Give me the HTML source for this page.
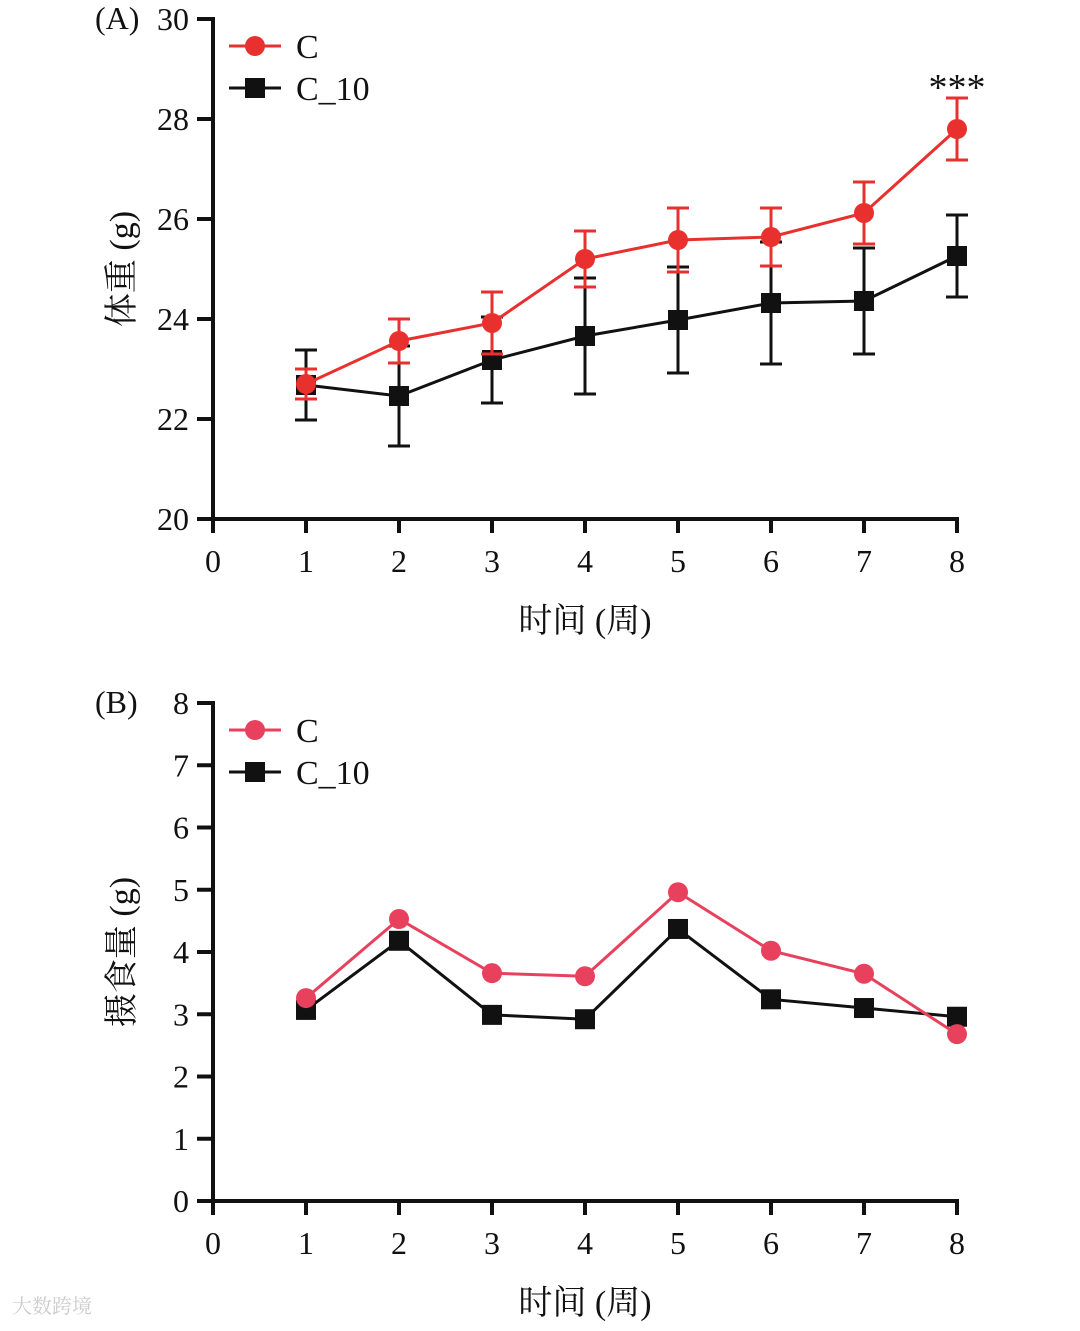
<!DOCTYPE html>
<html><head><meta charset="utf-8"><style>
body{margin:0;background:#fff;}
svg text{font-family:"Liberation Serif","Noto Serif CJK SC",serif;fill:#111;}
</style></head><body>
<svg id="c" width="1080" height="1326" viewBox="0 0 1080 1326" xmlns="http://www.w3.org/2000/svg"></svg>
<script>
const weeks=[1,2,3,4,5,6,7,8];
const xTicks=[0,1,2,3,4,5,6,7,8];
const aTicks=[20,22,24,26,28,30];
const aC=[22.7,23.56,23.92,25.2,25.58,25.64,26.12,27.8];
const aCerr=[0.3,0.44,0.62,0.56,0.64,0.58,0.62,0.62];
const aK=[22.68,22.46,23.18,23.66,23.98,24.32,24.36,25.26];
const aKerr=[0.7,1.0,0.86,1.16,1.06,1.22,1.06,0.82];
const bTicks=[0,1,2,3,4,5,6,7,8];
const bC=[3.26,4.53,3.66,3.61,4.96,4.02,3.65,2.68];
const bK=[3.07,4.18,2.99,2.92,4.37,3.24,3.10,2.96];
const NS="http://www.w3.org/2000/svg";
const svg=document.getElementById('c');
function mk(t,a,txt,p){const e=document.createElementNS(NS,t);for(const k in a)e.setAttribute(k,a[k]);if(txt!==undefined)e.textContent=txt;(p||svg).appendChild(e);return e;}
const X=v=>213+v*93;
function panel(name,y0,y1,vmin,vmax,ticks,ytitle,label,sC,sK,eC,eK,red){
  const Y=v=>y0-(v-vmin)/(vmax-vmin)*(y0-y1);
  const g=mk('g',{});
  
  
  const ax=mk('g',{},undefined,g);
  
  mk('line',{x1:213,y1:y1-2,x2:213,y2:y0+2,stroke:'#111','stroke-width':4},undefined,ax);
  mk('line',{x1:211,y1:y0,x2:959,y2:y0,stroke:'#111','stroke-width':4},undefined,ax);
  ticks.forEach(t=>{mk('line',{x1:197,y1:Y(t),x2:213,y2:Y(t),stroke:'#111','stroke-width':4},undefined,ax);
    const tt=mk('text',{x:189,y:Y(t)+11,'text-anchor':'end','font-size':32},String(t),ax);
    });
  xTicks.forEach(t=>{mk('line',{x1:X(t),y1:y0,x2:X(t),y2:y0+14,stroke:'#111','stroke-width':4},undefined,ax);
    const tt=mk('text',{x:X(t),y:y0+53,'text-anchor':'middle','font-size':32},String(t),ax);
    });
  const xt=mk('text',{x:585,y:y0+113,'text-anchor':'middle','font-size':34},'时间 (周)',g);
  
  const cy=(y0+y1)/2;
  const yt=mk('text',{x:0,y:0,'text-anchor':'middle','font-size':34,transform:`translate(133,${cy}) rotate(-90)`},ytitle,g);
  
  const pl=mk('text',{x:95,y:y1+10,'font-size':32},label,g);
  
  function series(vals,errs,col,sq,sname){
    const sg=mk('g',{},undefined,g);
    
    if(errs)vals.forEach((v,i)=>{const x=X(weeks[i]);
      mk('line',{x1:x,y1:Y(v-errs[i]),x2:x,y2:Y(v+errs[i]),stroke:col,'stroke-width':3},undefined,sg);
      [v-errs[i],v+errs[i]].forEach(e=>mk('line',{x1:x-11,y1:Y(e),x2:x+11,y2:Y(e),stroke:col,'stroke-width':3},undefined,sg));});
    mk('polyline',{points:vals.map((v,i)=>X(weeks[i])+','+Y(v)).join(' '),fill:'none',stroke:col,'stroke-width':3},undefined,sg);
    vals.forEach((v,i)=>{const m=sq?mk('rect',{x:X(weeks[i])-10,y:Y(v)-10,width:20,height:20,fill:col},undefined,sg):mk('circle',{cx:X(weeks[i]),cy:Y(v),r:10,fill:col},undefined,sg);
      });
  }
  series(sK,eK,'#111',true,'series-c10');
  series(sC,eC,red,false,'series-c');
  const lg=mk('g',{},undefined,g);
  
  const ly=y1+27;
  mk('line',{x1:229,y1:ly,x2:281,y2:ly,stroke:red,'stroke-width':3},undefined,lg);
  mk('circle',{cx:255,cy:ly,r:10,fill:red},undefined,lg);
  mk('text',{x:296,y:ly+12,'font-size':34},'C',lg);
  mk('line',{x1:229,y1:ly+42,x2:281,y2:ly+42,stroke:'#111','stroke-width':3},undefined,lg);
  mk('rect',{x:245,y:ly+32,width:20,height:20,fill:'#111'},undefined,lg);
  mk('text',{x:296,y:ly+54,'font-size':34},'C_10',lg);
  return Y;
}
const YA=panel('panel-a-body-weight',519,19,20,30,aTicks,'体重 (g)','(A)',aC,aK,aCerr,aKerr,'#e8312f');
const st=mk('text',{x:X(8),y:YA(aC[7]+aCerr[7])+2,'text-anchor':'middle','font-size':38},'***');

panel('panel-b-food-intake',1201,703,0,8,bTicks,'摄食量 (g)','(B)',bC,bK,null,null,'#e8415e');
const wm=mk('text',{x:12,y:1313,'font-size':20,fill:'#ccc',style:'fill:#ccc'},'大数跨境');

</script>
</body></html>
